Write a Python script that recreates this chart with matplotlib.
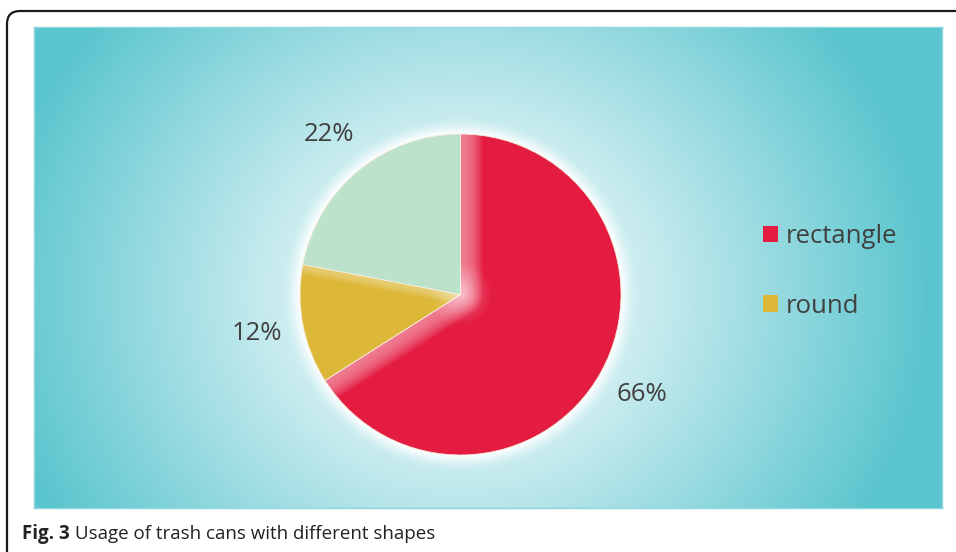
import numpy as np
import matplotlib
matplotlib.use("Agg")
import matplotlib.pyplot as plt
from matplotlib.patches import FancyBboxPatch, Patch

# Survey data: shapes of trash cans in use
categories = ["rectangle", "round", "other"]
shares = [66, 12, 22]
slice_colors = ["#E41C41", "#DDB737", "#BCE2CC"]
legend_entries = 2
caption_bold = "Fig. 3"
caption_text = " Usage of trash cans with different shapes"

plt.rcParams["font.family"] = ["Open Sans", "DejaVu Sans"]

W, H = 956, 552
fig = plt.figure(figsize=(W / 100, H / 100), dpi=100)
fig.patch.set_facecolor("white")

# rounded outer frame (pixel-based, y measured from the top)
frame = FancyBboxPatch((7 / 100, (H - 575) / 100), 1000 / 100, 564 / 100,
                       boxstyle="round,pad=0,rounding_size=0.13",
                       transform=fig.dpi_scale_trans, facecolor="none",
                       edgecolor="#1a1a1a", linewidth=1.6, zorder=0)
fig.patches.append(frame)

# panel with radial teal gradient
px0, py0, px1, py1 = 34, 27, 942, 508
ax_bg = fig.add_axes([px0 / W, (H - py1) / H, (px1 - px0) / W, (py1 - py0) / H])
cx, cy, rad = 460.5, 294.5, 160.5
xs = np.arange(px0, px1) + 0.5
ys = np.arange(py0, py1) + 0.5
X, Y = np.meshgrid(xs, ys)
rr = np.hypot(X - cx, Y - cy)
re = np.hypot(X - cx, (Y - cy) / 0.92)
t = np.clip((re - 50) / 420, 0, 1)
teal = np.array([90, 197, 206]) / 255
white = np.ones(3)
img = white[None, None, :] * (1 - t[..., None]) + teal[None, None, :] * t[..., None]
halo = np.clip(1 - (rr - rad) / 16, 0, 1) ** 1.5
img = img * (1 - halo[..., None]) + white * halo[..., None]
ax_bg.imshow(img, extent=(px0, px1, py1, py0), aspect="auto", interpolation="bilinear")
ax_bg.set_xticks([])
ax_bg.set_yticks([])
for s in ax_bg.spines.values():
    s.set_color("#8fd6dc")
    s.set_linewidth(1.0)

# pie axes: 1 data unit = rad pixels
half = 1.25
size = 2 * half * rad
ax = fig.add_axes([(cx - size / 2) / W, (H - cy - size / 2) / H, size / W, size / H])
ax.set_xlim(-half, half)
ax.set_ylim(-half, half)
ax.set_aspect("equal")
ax.axis("off")
ax.patch.set_alpha(0)

wedges, _ = ax.pie(shares, colors=slice_colors, startangle=90, counterclock=False,
                   radius=1.0, wedgeprops=dict(edgecolor="#f3ead8", linewidth=0.6))

# soft bevel highlight along the straight edges of the slices
g = np.linspace(-half, half, 600)
GX, GY = np.meshgrid(g, g)
centre = np.hypot(GX, GY)


def ray_dist(angle_deg):
    a = np.deg2rad(angle_deg)
    proj = GX * np.cos(a) + GY * np.sin(a)
    perp = np.abs(GX * np.sin(a) - GY * np.cos(a))
    return np.where(proj > 0, perp, centre)


def highlight(wedge, angles, amp, width):
    d = np.min([ray_dist(a) for a in angles], axis=0)
    alpha = amp * np.clip(1 - (d / width) ** 2, 0, 1)
    alpha = np.clip(alpha + 0.3 * np.clip(1 - centre / 0.2, 0, 1), 0, 1)
    rgba = np.ones(GX.shape + (4,))
    rgba[..., 3] = alpha
    im = ax.imshow(rgba, extent=(-half, half, -half, half), origin="lower",
                   interpolation="bilinear", zorder=3)
    im.set_clip_path(wedge)


highlight(wedges[0], [wedges[0].theta1, wedges[0].theta2], 0.42, 0.14)
edges_green = {round(wedges[2].theta1, 6), round(wedges[2].theta2, 6)}
shared = [a for a in (wedges[1].theta1, wedges[1].theta2) if round(a, 6) in edges_green]
highlight(wedges[1], shared, 0.3, 0.07)

# percentage labels outside the slices
for w, v in zip(wedges, shares):
    mid = np.deg2rad((w.theta1 + w.theta2) / 2)
    ax.text(1.29 * np.cos(mid), 1.29 * np.sin(mid), f"{v}%", ha="center", va="center",
            fontsize=18.5, color="#404040", clip_on=False)

handles = [Patch(facecolor=c, edgecolor="none") for c in slice_colors[:legend_entries]]
fig.legend(handles, categories[:legend_entries], loc="upper left",
           bbox_to_anchor=(763 / W, 1 - 224 / H), frameon=False, fontsize=18.5,
           borderpad=0, borderaxespad=0,
           handlelength=0.6, handleheight=0.6, handletextpad=0.3, labelspacing=1.74,
           labelcolor="#404040")

# caption
t1 = fig.text(22 / W, 1 - 539 / H, caption_bold, fontsize=13.5, fontweight="bold",
              color="#222222", va="baseline")
fig.canvas.draw()
bb = t1.get_window_extent()
fig.text(bb.x1 / W, 1 - 539 / H, caption_text, fontsize=13.5, color="#222222", va="baseline")

fig.savefig("out.png", dpi=100)
